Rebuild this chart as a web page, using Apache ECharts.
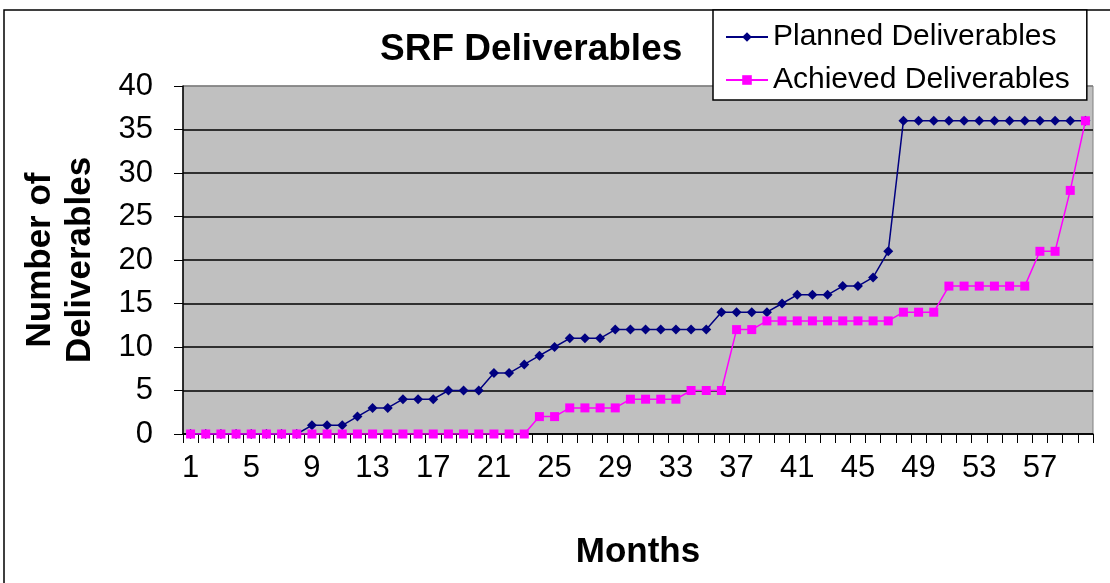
<!DOCTYPE html>
<html style="height: 100%">
<head>
    <meta charset="utf-8">
</head>
<body style="height: 100%; margin: 0; background: #fff">
<div id="container" style="width: 1110px; height: 583px"></div>
<script type="text/javascript" src="https://cdn.jsdelivr.net/npm/echarts@6.0.0/dist/echarts.min.js"></script>
<script type="text/javascript">
  // months 1..60 on the category axis
  const months = Array.from({ length: 60 }, (_, i) => String(i + 1));

  const planned = [
    0, 0, 0, 0, 0, 0, 0, 0, 1, 1,
    1, 2, 3, 3, 4, 4, 4, 5, 5, 5,
    7, 7, 8, 9, 10, 11, 11, 11, 12, 12,
    12, 12, 12, 12, 12, 14, 14, 14, 14, 15,
    16, 16, 16, 17, 17, 18, 21, 36, 36, 36,
    36, 36, 36, 36, 36, 36, 36, 36, 36, 36
  ];
  const achieved = [
    0, 0, 0, 0, 0, 0, 0, 0, 0, 0,
    0, 0, 0, 0, 0, 0, 0, 0, 0, 0,
    0, 0, 0, 2, 2, 3, 3, 3, 3, 4,
    4, 4, 4, 5, 5, 5, 12, 12, 13, 13,
    13, 13, 13, 13, 13, 13, 13, 14, 14, 14,
    17, 17, 17, 17, 17, 17, 21, 21, 28, 36
  ];

  const font = '"Liberation Sans", Arial, sans-serif';
  // black grid lines, the top one (40) is the plot border
  const gridColors = ['#000', '#000', '#000', '#000', '#000', '#000', '#000', '#000', '#808080'];

  var dom = document.getElementById("container");
  var myChart = echarts.init(dom, null, { renderer: 'canvas' });
  var option = {
    animation: false,
    backgroundColor: '#fff',
    textStyle: { fontFamily: font },
    graphic: [
      {
        type: 'rect',
        shape: { x: 4, y: 10, width: 1200, height: 700 },
        style: { fill: 'none', stroke: '#000', lineWidth: 1.5 },
        z: 0
      }
    ],
    title: {
      text: 'SRF Deliverables',
      left: 375,
      top: 26,
      textStyle: { fontFamily: font, fontSize: 37, fontWeight: 'bold', color: '#000' }
    },
    legend: {
      left: 713,
      top: 10,
      orient: 'vertical',
      backgroundColor: '#fff',
      borderColor: '#000',
      borderWidth: 1.5,
      borderRadius: 0,
      padding: [12, 17, 5, 12],
      itemGap: 13,
      itemWidth: 42,
      itemHeight: 12,
      textStyle: { fontFamily: font, fontSize: 30, color: '#000' },
      data: ['Planned Deliverables', 'Achieved Deliverables']
    },
    grid: {
      left: 183,
      right: 17,
      top: 86,
      bottom: 149,
      show: true,
      backgroundColor: '#c0c0c0',
      borderColor: '#808080',
      borderWidth: 1
    },
    xAxis: {
      type: 'category',
      data: months,
      boundaryGap: true,
      name: 'Months',
      nameLocation: 'middle',
      nameGap: 101,
      nameTextStyle: { fontFamily: font, fontSize: 35, fontWeight: 'bold', color: '#000' },
      axisLine: { lineStyle: { color: '#000', width: 1.5 } },
      axisTick: { show: true, interval: 0, length: 9, lineStyle: { color: '#000' } },
      axisLabel: { interval: 3, margin: 19, fontSize: 31, color: '#000', fontFamily: font },
      splitLine: { show: false }
    },
    yAxis: {
      type: 'value',
      min: 0,
      max: 40,
      interval: 5,
      name: 'Number of\nDeliverables',
      nameLocation: 'middle',
      nameGap: 83,
      nameRotate: 90,
      nameTextStyle: { fontFamily: font, fontSize: 35, fontWeight: 'bold', color: '#000', lineHeight: 40 },
      axisLine: { show: true, lineStyle: { color: '#000', width: 1.5 } },
      axisTick: { show: true, length: 9, lineStyle: { color: '#000' } },
      axisLabel: { margin: 30, fontSize: 31, color: '#000', fontFamily: font },
      splitLine: { show: true, lineStyle: { color: gridColors, width: 1.5 } }
    },
    series: [
      {
        name: 'Planned Deliverables',
        type: 'line',
        data: planned,
        symbol: 'diamond',
        symbolSize: 10,
        showAllSymbol: true,
        color: '#000080',
        lineStyle: { color: '#000080', width: 1.5 },
        itemStyle: { color: '#000080' },
        z: 2
      },
      {
        name: 'Achieved Deliverables',
        type: 'line',
        data: achieved,
        symbol: 'rect',
        symbolSize: 9,
        showAllSymbol: true,
        color: '#ff00ff',
        lineStyle: { color: '#ff00ff', width: 1.5 },
        itemStyle: { color: '#ff00ff' },
        z: 3
      }
    ]
  };
  myChart.setOption(option);
</script>
</body>
</html>
